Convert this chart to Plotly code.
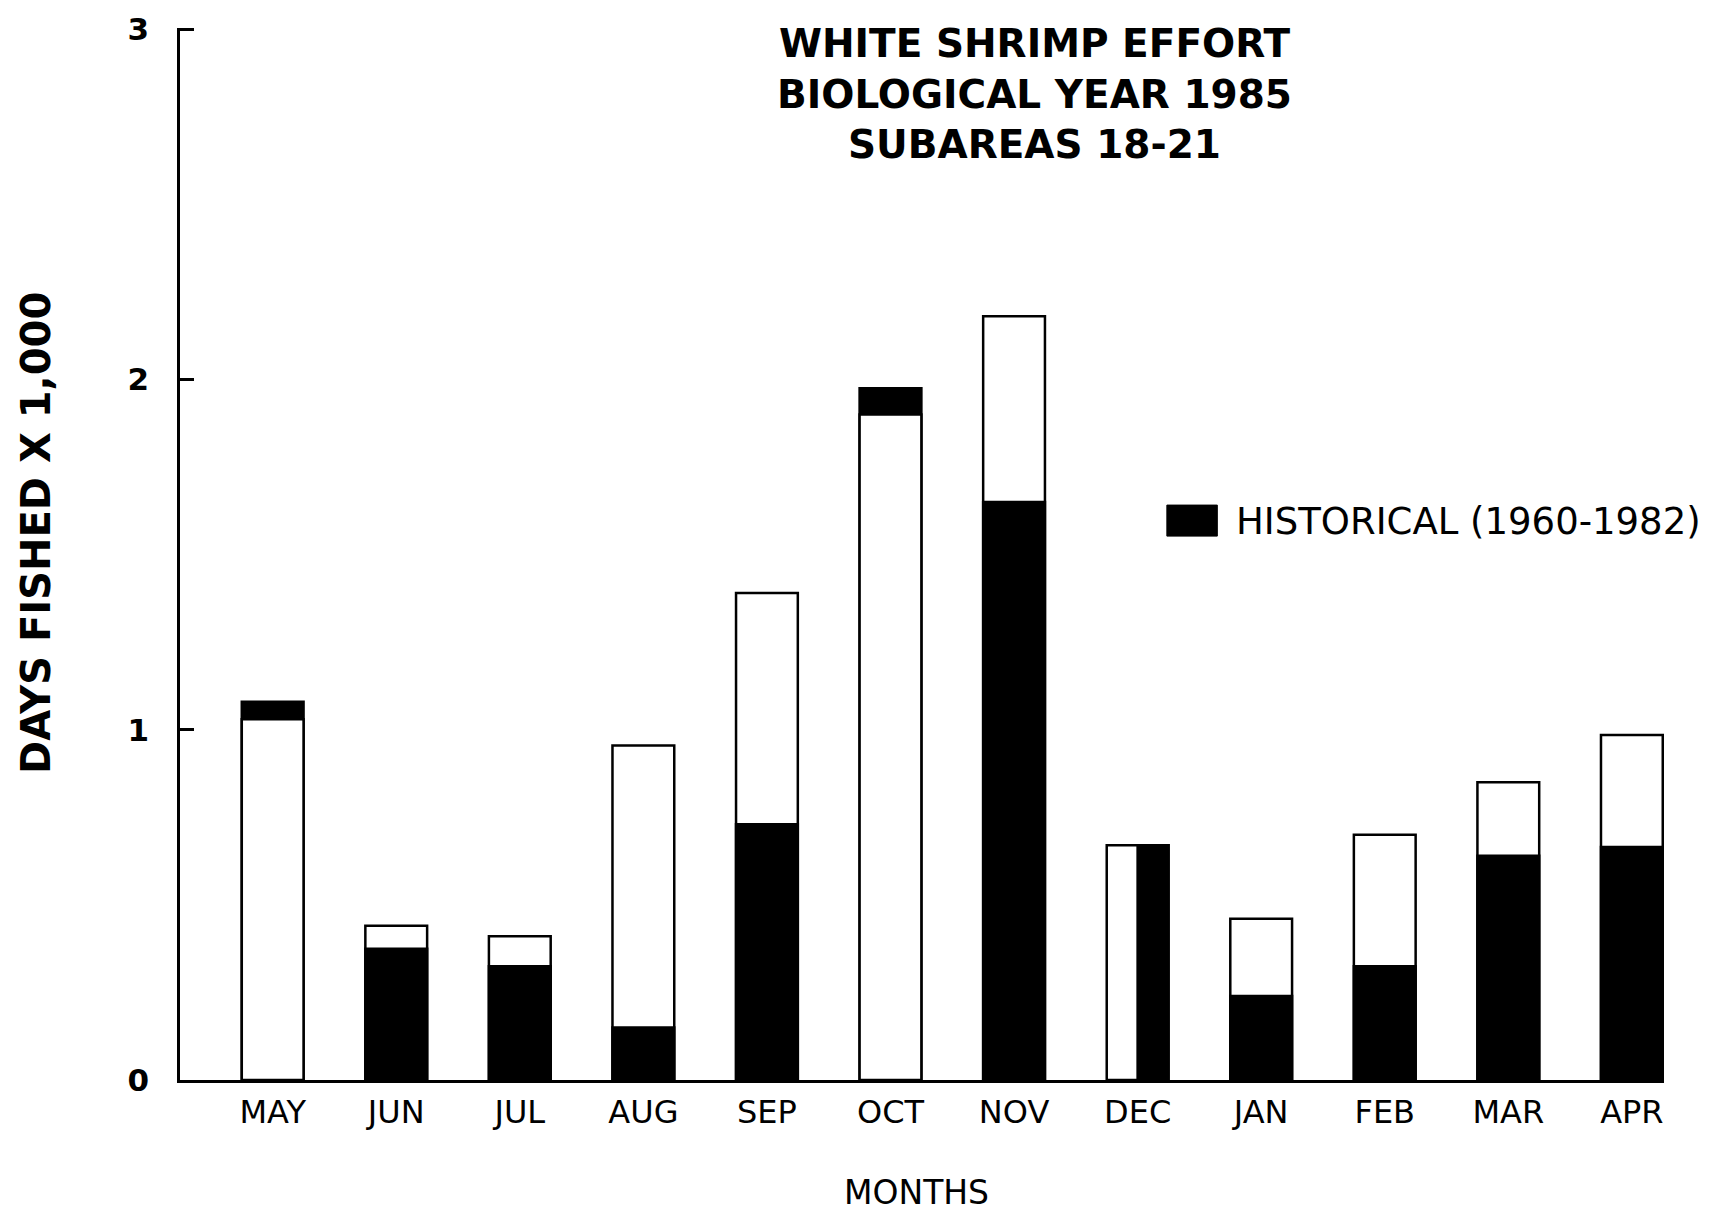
import numpy as np
import plotly.graph_objects as go

months = ["MAY", "JUN", "JUL", "AUG", "SEP", "OCT", "NOV", "DEC", "JAN", "FEB", "MAR", "APR"]
effort_1985 = [1.03, 0.44, 0.41, 0.955, 1.39, 1.90, 2.18, 0.67, 0.46, 0.70, 0.85, 0.985]
historical = [1.08, 0.375, 0.325, 0.15, 0.73, 1.975, 1.65, 0.67, 0.24, 0.325, 0.64, 0.665]
y_ticks = [0, 1, 2, 3]

a = np.array(effort_1985)
h = np.array(historical)
back_vals = np.maximum(a, h)
front_vals = np.minimum(a, h)
equal = np.isclose(a, h)
back_colors = ["white" if ai >= hi else "black" for ai, hi in zip(a, h)]
front_colors = ["black" if ai >= hi else "white" for ai, hi in zip(a, h)]
BW = 0.5
front_width = [BW / 2 if e else BW for e in equal]
front_offset = [0 if e else -BW / 2 for e in equal]

fig = go.Figure()
fig.add_trace(go.Bar(
    x=months, y=back_vals, width=BW, offset=-BW / 2,
    marker=dict(color=back_colors, line=dict(color="black", width=2.5)),
    showlegend=False, hoverinfo="skip",
))
fig.add_trace(go.Bar(
    x=months, y=front_vals, width=front_width, offset=front_offset,
    marker=dict(color=front_colors, line=dict(color="black", width=2.5)),
    showlegend=False, hoverinfo="skip",
))

fig.update_layout(
    width=1730, height=1214,
    barmode="overlay",
    paper_bgcolor="white", plot_bgcolor="white",
    margin=dict(l=172, r=74, t=20, b=142),
    font=dict(family="DejaVu Sans", color="black"),
    xaxis=dict(
        type="category", range=[-0.75, 11.26], automargin=False,
        showline=True, linecolor="black", linewidth=2.5,
        ticks="", showgrid=False, zeroline=False,
        tickfont=dict(family="DejaVu Sans", size=32, color="black"),
        ticklabelstandoff=2,
    ),
    yaxis=dict(
        range=[0, 3.003], tickvals=y_ticks, ticktext=[str(v) for v in y_ticks],
        automargin=False, ticklabeloverflow="allow",
        showline=True, linecolor="black", linewidth=2.5,
        ticks="inside", ticklen=14, tickwidth=2.5, tickcolor="black",
        showgrid=False, zeroline=False,
        tickfont=dict(family="DejaVu Sans", size=31, color="black", weight="bold"),
        ticklabelstandoff=22,
    ),
    annotations=[
        dict(text="WHITE SHRIMP EFFORT<br>BIOLOGICAL YEAR 1985<br>SUBAREAS 18-21",
             xref="paper", yref="paper", x=0.576, y=0.937,
             xanchor="center", yanchor="middle", showarrow=False,
             font=dict(family="DejaVu Sans", size=39, color="black", weight="bold")),
        dict(text="DAYS FISHED X 1,000", textangle=-90,
             xref="paper", yref="paper", x=-0.097, y=0.52,
             xanchor="center", yanchor="middle", showarrow=False,
             font=dict(family="DejaVu Sans", size=40, color="black", weight="bold")),
        dict(text="MONTHS",
             xref="paper", yref="paper", x=0.496, y=-0.107,
             xanchor="center", yanchor="middle", showarrow=False,
             font=dict(family="DejaVu Sans", size=33, color="black")),
        dict(text="HISTORICAL (1960-1982)",
             xref="paper", yref="paper", x=0.71, y=0.531,
             xanchor="left", yanchor="middle", showarrow=False,
             font=dict(family="DejaVu Sans", size=37, color="black")),
    ],
    shapes=[
        dict(type="rect", xref="paper", yref="paper",
             x0=0.665, x1=0.699, y0=0.517, y1=0.5465,
             fillcolor="black", line=dict(color="black", width=1)),
    ],
)

fig.write_html("out.html")
